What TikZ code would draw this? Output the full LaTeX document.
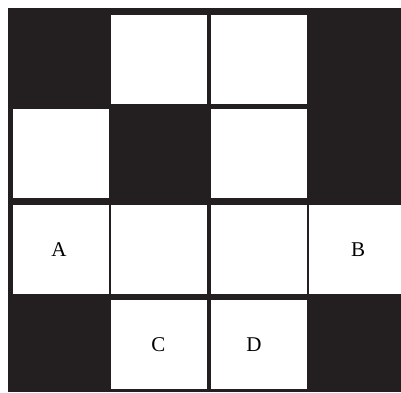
\documentclass[tikz,border=0pt]{standalone}
\usepackage{fontspec}
\setmainfont{Liberation Serif}
\definecolor{ink}{HTML}{231F20}
\tikzset{cell/.style={fill=white, inner sep=0pt, minimum width=96pt, minimum height=89pt, font=\fontsize{21}{24}\selectfont}}

\begin{document}
\begin{tikzpicture}[x=1pt,y=-1pt]

        \useasboundingbox (0,0) rectangle (401,392);
        \fill[ink] (8,8) rectangle (401,392);

        \node[cell] (r1c2) at (158.5,59.5) {};
        \node[cell] (r1c3) at (258.5,59.5) {};

        \node[cell] (r2c1) at (61,153) {};
        \node[cell] (r2c3) at (258.5,153) {};

        \node[cell] (A)    at (61,249.5) {\hspace*{-4pt}A};
        \node[cell] (r3c2) at (158.5,249.5) {};
        \node[cell] (r3c3) at (258.5,249.5) {};
        \node[cell, minimum width=92pt] (B) at (355,249.5) {\hspace*{6pt}B};

        \node[cell] (C) at (158.5,344.5) {C};
        \node[cell] (D) at (258.5,344.5) {\hspace*{-9pt}D};

        \end{tikzpicture}
\end{document}
